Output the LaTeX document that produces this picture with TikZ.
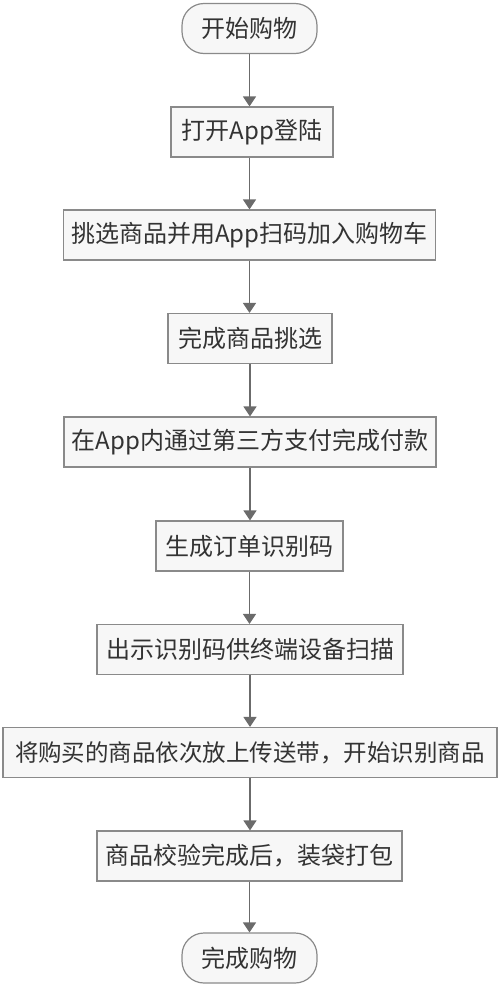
\documentclass[tikz,border=0pt]{standalone}
\usepackage{fontspec}
\setmainfont{Noto Sans CJK SC}
\usetikzlibrary{arrows.meta}

\newlength{\du}
\setlength{\du}{1pt}

\definecolor{boxline}{rgb}{0.540000, 0.540000, 0.540000}
\definecolor{boxfill}{rgb}{0.970000, 0.970000, 0.970000}
\definecolor{arrowline}{rgb}{0.420000, 0.420000, 0.420000}
\definecolor{textcolor}{rgb}{0.200000, 0.200000, 0.200000}

\tikzset{
  stepbox/.style={draw=boxline, fill=boxfill, line width=1.2\du, minimum height=50\du,
    inner sep=0pt, text=textcolor, font=\fontsize{24}{24}\selectfont},
  termbox/.style={stepbox, rounded corners=22\du, minimum width=135\du},
  flowarrow/.style={draw=arrowline, line width=1.7\du,
    -{Triangle[length=10pt, width=13pt]}}
}

\begin{document}
\begin{tikzpicture}
\pgftransformxscale{1.000000}
\pgftransformyscale{-1.000000}
\useasboundingbox (0\du,0\du) rectangle (500\du,988\du);
% start
\node[termbox] (start) at (249.5\du,28.5\du){开始购物};
% steps
\node[stepbox, minimum width=162\du] (login) at (252\du,132\du){打开App登陆};
\node[stepbox, minimum width=372\du] (pick) at (249.5\du,235\du){挑选商品并用App扫码加入购物车};
\node[stepbox, minimum width=164\du] (pickdone) at (250\du,338.5\du){完成商品挑选};
\node[stepbox, minimum width=372\du] (pay) at (250\du,442\du){在App内通过第三方支付完成付款};
\node[stepbox, minimum width=187\du] (code) at (249.5\du,546\du){生成订单识别码};
\node[stepbox, minimum width=306\du] (scan) at (250\du,649.5\du){出示识别码供终端设备扫描};
\node[stepbox, minimum width=494\du, font=\fontsize{23.5}{23.5}\selectfont] (belt) at (250\du,752.5\du){将购买的商品依次放上传送带，开始识别商品};
\node[stepbox, minimum width=305\du] (pack) at (249.5\du,856\du){商品校验完成后，装袋打包};
% end
\node[termbox] (finish) at (249.5\du,958\du){完成购物};
% arrows
\draw[flowarrow] (start.south) -- (start.south |- login.north);
\draw[flowarrow] (login.south -| pick.north) -- (pick.north);
\draw[flowarrow] (pick.south) -- (pickdone.north -| pick.south);
\draw[flowarrow] (pickdone.south) -- (pay.north -| pickdone.south);
\draw[flowarrow] (pay.south) -- (code.north -| pay.south);
\draw[flowarrow] (code.south) -- (scan.north -| code.south);
\draw[flowarrow] (scan.south) -- (belt.north -| scan.south);
\draw[flowarrow] (belt.south) -- (pack.north -| belt.south);
\draw[flowarrow] (pack.south) -- (finish.north -| pack.south);
\end{tikzpicture}
\end{document}
